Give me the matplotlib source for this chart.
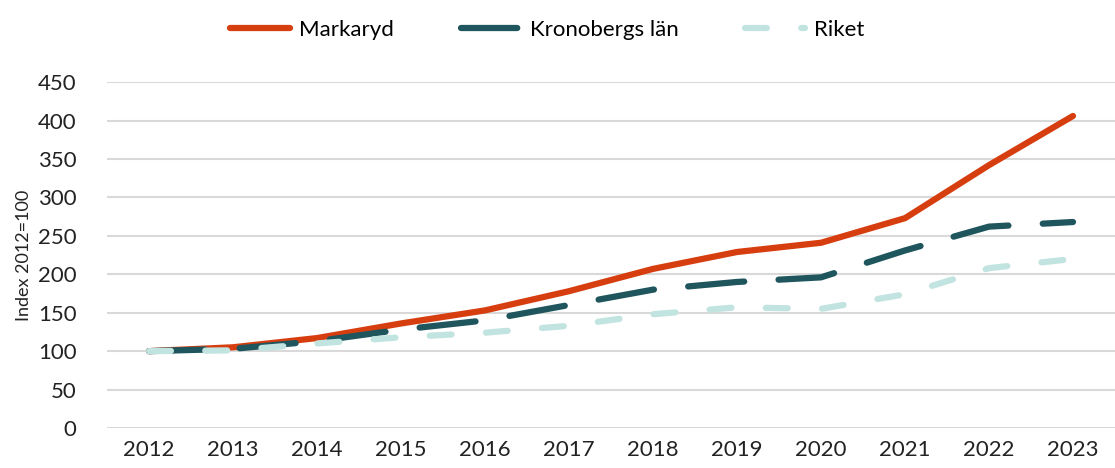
import numpy as np
import matplotlib
matplotlib.use("Agg")
from matplotlib import pyplot as plt

plt.rcParams['font.family'] = ['Lato', 'DejaVu Sans']

years = [2012, 2013, 2014, 2015, 2016, 2017, 2018, 2019, 2020, 2021, 2022, 2023]
markaryd = [100, 105, 117, 136, 153, 178, 207, 229, 241, 273, 342, 406]
kronoberg = [100, 103, 113, 128, 140, 160, 180, 190, 196, 231, 262, 268]
riket = [100, 101, 110, 118, 124, 133, 148, 157, 155, 174, 208, 220]

red = '#D63E10'
dark = '#1F555C'
light = '#C2E4E0'

fig = plt.figure(figsize=(11.15, 4.68), dpi=100)
ax = fig.add_axes([0.096, 0.0855, 0.904, 0.739])

x = np.arange(len(years))
lw = 4.5
ax.plot(x, markaryd, color=red, lw=lw, solid_capstyle='round', solid_joinstyle='round', label='Markaryd', zorder=3)
ax.plot(x, kronoberg, color=dark, lw=lw, dashes=(9, 5.5), dash_capstyle='round', label='Kronobergs län', zorder=4)
ax.plot(x, riket, color=light, lw=lw, dashes=(3.5, 5.5), dash_capstyle='round', label='Riket', zorder=5)

ax.set_xlim(-0.5, len(years) - 0.5)
ax.set_ylim(0, 450)
ax.set_yticks(np.arange(0, 451, 50))
ax.set_xticks(x)
ax.set_xticklabels([str(y) for y in years])
ax.tick_params(axis='both', length=0, labelsize=16, colors='#222222')
ax.tick_params(axis='y', pad=22)
ax.tick_params(axis='x', pad=9)
ax.yaxis.grid(True, color='#d9d9d9', lw=1.5)
ax.set_axisbelow(True)
for s in ax.spines.values():
    s.set_visible(False)
ax.set_ylabel('Index 2012=100', fontsize=13, color='#222222', labelpad=4)

fig.legend(loc='upper center', bbox_to_anchor=(0.491, 1.0), ncol=3, frameon=False,
           fontsize=16, handlelength=2.7, columnspacing=3.0, handletextpad=0.4)

fig.savefig('out.png', dpi=100)
